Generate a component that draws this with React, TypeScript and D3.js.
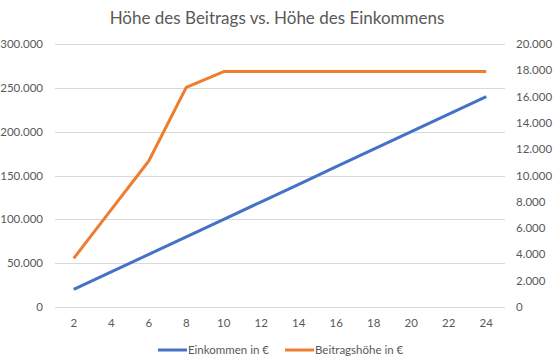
import { useEffect, useRef } from 'react';
import * as d3 from 'd3';

const categories = ['2', '4', '6', '8', '10', '12', '14', '16', '18', '20', '22', '24'];
const einkommen = [20000, 40000, 60000, 80000, 100000, 120000, 140000, 160000, 180000, 200000, 220000, 240000];
const beitrag = [3700, 7400, 11100, 16700, 17900, 17900, 17900, 17900, 17900, 17900, 17900, 17900];
const leftTicks = [0, 50000, 100000, 150000, 200000, 250000, 300000];
const rightTicks = [0, 2000, 4000, 6000, 8000, 10000, 12000, 14000, 16000, 18000, 20000];
const seriesNames = ['Einkommen in €', 'Beitragshöhe in €'];

const WIDTH = 554;
const HEIGHT = 363;
const MARGIN = { top: 44, right: 49, bottom: 56, left: 55 };
const FONT = 'Lato, "Open Sans", sans-serif';
const TEXT = '#595959';
const BLUE = '#4472C4';
const ORANGE = '#ED7D31';

const fmt = (v: number) => (v === 0 ? '0' : d3.format(',')(v).replace(/,/g, '.'));

export default function App() {
  const svgRef = useRef<SVGSVGElement>(null);

  useEffect(() => {
    if (!svgRef.current) return;
    const svg = d3.select(svgRef.current);
    svg.selectAll('*').remove();

    const innerW = WIDTH - MARGIN.left - MARGIN.right;
    const innerH = HEIGHT - MARGIN.top - MARGIN.bottom;

    svg.append('rect').attr('width', WIDTH).attr('height', HEIGHT).attr('fill', '#fff');

    const g = svg.append('g').attr('transform', `translate(${MARGIN.left},${MARGIN.top})`);

    const x = d3.scaleBand<string>().domain(categories).range([0, innerW]);
    const yL = d3.scaleLinear().domain([0, 300000]).range([innerH, 0]);
    const yR = d3.scaleLinear().domain([0, 20000]).range([innerH, 0]);
    const cx = (i: number) => (x(categories[i]) ?? 0) + x.bandwidth() / 2;

    // gridlines
    g.selectAll('.grid')
      .data(leftTicks)
      .join('line')
      .attr('x1', 0)
      .attr('x2', innerW)
      .attr('y1', (d) => Math.round(yL(d)) + 0.5)
      .attr('y2', (d) => Math.round(yL(d)) + 0.5)
      .attr('stroke', '#D9D9D9')
      .attr('stroke-width', 1);

    // left axis labels
    g.selectAll('.ltick')
      .data(leftTicks)
      .join('text')
      .attr('x', -12)
      .attr('y', (d) => yL(d))
      .attr('dy', '0.35em')
      .attr('text-anchor', 'end')
      .attr('font-family', FONT)
      .attr('font-size', 11.5)
      .attr('fill', TEXT)
      .text((d) => fmt(d));

    // right axis labels
    g.selectAll('.rtick')
      .data(rightTicks)
      .join('text')
      .attr('x', innerW + 11)
      .attr('y', (d) => yR(d))
      .attr('dy', '0.35em')
      .attr('text-anchor', 'start')
      .attr('font-family', FONT)
      .attr('font-size', 11.5)
      .attr('fill', TEXT)
      .text((d) => fmt(d));

    // x labels
    g.selectAll('.xtick')
      .data(categories)
      .join('text')
      .attr('x', (_d, i) => cx(i))
      .attr('y', innerH + 16)
      .attr('dy', '0.35em')
      .attr('text-anchor', 'middle')
      .attr('font-family', FONT)
      .attr('font-size', 11.5)
      .attr('fill', TEXT)
      .text((d) => d);

    const lineL = d3
      .line<number>()
      .x((_d, i) => cx(i))
      .y((d) => yL(d));
    const lineR = d3
      .line<number>()
      .x((_d, i) => cx(i))
      .y((d) => yR(d));

    g.append('path')
      .attr('d', lineL(einkommen))
      .attr('fill', 'none')
      .attr('stroke', BLUE)
      .attr('stroke-width', 3)
      .attr('stroke-linejoin', 'round');

    g.append('path')
      .attr('d', lineR(beitrag))
      .attr('fill', 'none')
      .attr('stroke', ORANGE)
      .attr('stroke-width', 3)
      .attr('stroke-linejoin', 'round');

    // title
    svg
      .append('text')
      .attr('x', 277)
      .attr('y', 24)
      .attr('text-anchor', 'middle')
      .attr('font-family', FONT)
      .attr('font-size', 17)
      .attr('fill', TEXT)
      .text('Höhe des Beitrags vs. Höhe des Einkommens');

    // legend
    const legend = svg.append('g').attr('transform', 'translate(0,350)');
    const colors = [BLUE, ORANGE];
    const starts = [158, 285];
    seriesNames.forEach((name, i) => {
      legend
        .append('line')
        .attr('x1', starts[i])
        .attr('x2', starts[i] + 29)
        .attr('y1', 0)
        .attr('y2', 0)
        .attr('stroke', colors[i])
        .attr('stroke-width', 3);
      legend
        .append('text')
        .attr('x', starts[i] + 30)
        .attr('y', 0)
        .attr('dy', '0.35em')
        .attr('font-family', FONT)
        .attr('font-size', 11.5)
        .attr('fill', TEXT)
        .text(name);
    });
  }, []);

  return (
    <svg
      ref={svgRef}
      width={WIDTH}
      height={HEIGHT}
      style={{ position: 'absolute', left: 0, top: 0, display: 'block' }}
    />
  );
}
